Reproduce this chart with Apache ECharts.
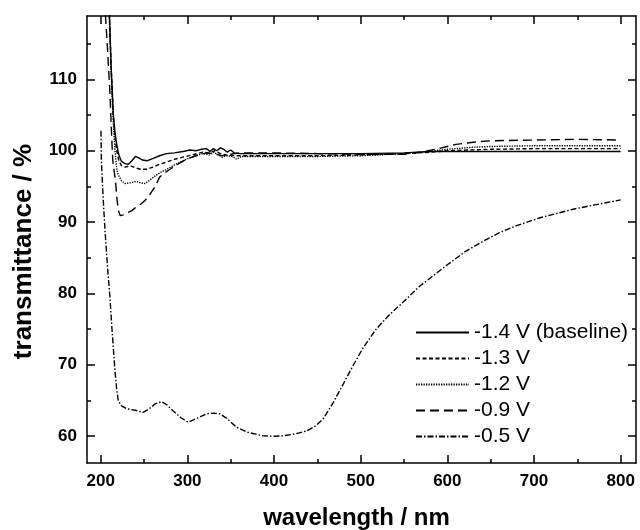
<!DOCTYPE html>
<html>
<head>
<meta charset="utf-8">
<script src="https://cdn.jsdelivr.net/npm/echarts@6/dist/echarts.min.js"></script>
<style>
html,body{margin:0;padding:0;background:#fff;}
#chart{width:640px;height:530px;}
</style>
</head>
<body>
<div id="chart"></div>
<script>
// ---- data ----
const seriesNames = ['-1.4 V (baseline)', '-1.3 V', '-1.2 V', '-0.9 V', '-0.5 V'];

const wl_m14 = [209.5,212,214.5,216.5,218.5,221,224,228,232,236,240,244,248,254,260,268,276,285,295,303,310,316,322,326,330,334,338,342,346,350,354,360,380,400,450,500,550,580,600,650,700,750,800];
const t_m14  = [121,112,105.3,102.5,100.9,99.4,98.5,98.2,98.1,98.6,99.2,99.0,98.7,98.6,98.9,99.3,99.6,99.7,99.9,100.1,100.0,100.2,100.3,99.9,100.3,100.0,100.4,100.2,99.8,100.1,99.7,99.6,99.6,99.6,99.6,99.6,99.7,99.9,99.9,99.9,99.9,99.9,99.9];

const wl_m13 = [209.5,212,214.5,216.5,218.5,221,224,228,234,240,246,253,260,268,276,285,295,305,318,325,332,338,345,355,400,450,500,550,580,600,650,700,750,800];
const t_m13  = [121,112,105,102,100,98.6,97.9,97.7,97.9,97.6,97.4,97.4,97.7,98.1,98.4,98.8,99.1,99.4,99.8,99.7,100.0,99.6,99.4,99.3,99.3,99.3,99.4,99.6,99.8,100.0,100.2,100.3,100.3,100.3];

const wl_m12 = [209.5,212,214.5,216.5,218.5,220,224,228,234,241,246,251,256,261,268,276,285,295,303,310,318,325,330,335,340,345,352,357,362,400,450,500,550,580,600,630,650,700,750,800];
const t_m12  = [121,111,104,100,97.5,96.7,95.8,95.4,95.5,95.7,95.5,95.4,95.8,96.3,96.9,97.4,98.0,98.6,99.0,99.3,99.6,99.4,99.8,99.5,99.1,99.3,99.2,98.8,99.2,99.2,99.2,99.3,99.6,99.9,100.2,100.5,100.6,100.7,100.7,100.7];

const wl_m09 = [204.5,208,210.7,213,214,217,219,220.5,222.5,226,231,236,241,246,251,257,263,268,274,280,290,299,310,322,330,340,350,360,400,450,500,550,570,590,610,630,650,700,750,800];
const t_m09  = [121,114,108,101,98.6,95.8,93,91.6,90.9,91.0,91.3,91.6,92.1,92.5,93.0,93.9,95.0,96.3,96.9,97.4,98.2,98.8,99.3,99.7,99.6,99.3,99.5,99.7,99.7,99.6,99.5,99.5,99.8,100.3,100.9,101.2,101.4,101.5,101.6,101.5];

const wl_m05 = [200.3,200.8,203,205,208,210.7,213,216.5,218.5,220.3,224,230,240,249,256,263,270,276,283.8,292,301,310,322,330,337.6,345,357,370,387.6,400,410,425,437.7,448,456.8,468,480,490,503,518,534,545,568,600,620,641,660,680,707,745,770,800];
const t_m05  = [102.8,98.6,93,88.8,83.5,79.4,75,69.1,66.5,64.9,64.2,63.8,63.6,63.3,63.8,64.5,64.8,64.4,63.5,62.6,61.9,62.4,63.1,63.2,63.1,62.5,61.2,60.5,60.0,59.95,60.0,60.3,60.7,61.4,62.4,64.6,67.3,69.6,72.4,75.0,77.1,78.3,81.0,84.0,85.8,87.3,88.5,89.5,90.6,91.8,92.4,93.1];

const xMajorTicks = [200,300,400,500,600,700,800];
const xMinorTicks = [250,350,450,550,650,750];
const yMajorTicks = [60,70,80,90,100,110];
const yMinorTicks = [65,75,85,95,105,115];

// ---- chart ----
const pairs = (xs, ys) => xs.map((x, i) => [x, ys[i]]);
const FONT = '"Liberation Sans", Arial, Helvetica, sans-serif';
const X_MIN = 184.2, X_MAX = 817.7, Y_MIN = 56.2, Y_MAX = 118.9;

function xAx(pos, ticks, len, labels, line) {
  return {
    type: 'value', position: pos, min: X_MIN, max: X_MAX, gridIndex: 0,
    axisLine: { show: line, onZero: false, lineStyle: { color: '#000', width: 1.5 } },
    axisTick: { show: true, inside: true, length: len, customValues: ticks, lineStyle: { color: '#000', width: 1.5 } },
    axisLabel: labels ? { show: true, customValues: ticks, color: '#000', fontFamily: FONT, fontWeight: 'bold', fontSize: 17, margin: 10 } : { show: false },
    splitLine: { show: false }
  };
}
function yAx(pos, ticks, len, labels, line) {
  return {
    type: 'value', position: pos, min: Y_MIN, max: Y_MAX, gridIndex: 0,
    axisLine: { show: line, onZero: false, lineStyle: { color: '#000', width: 1.5 } },
    axisTick: { show: true, inside: true, length: len, customValues: ticks, lineStyle: { color: '#000', width: 1.5 } },
    axisLabel: labels ? { show: true, customValues: ticks, color: '#000', fontFamily: FONT, fontWeight: 'bold', fontSize: 17, margin: 10 } : { show: false },
    splitLine: { show: false }
  };
}

const xAxes = [
  xAx('bottom', xMajorTicks, 8, true, true),
  xAx('bottom', xMinorTicks, 4, false, false),
  xAx('top', xMajorTicks, 8, false, true),
  xAx('top', xMinorTicks, 4, false, false)
];
Object.assign(xAxes[0], {
  name: 'wavelength / nm', nameLocation: 'middle', nameGap: 43,
  nameTextStyle: { color: '#000', fontFamily: FONT, fontWeight: 'bold', fontSize: 24, padding: [0, 10, 0, 0] }
});
const yAxes = [
  yAx('left', yMajorTicks, 8, true, true),
  yAx('left', yMinorTicks, 4, false, false),
  yAx('right', yMajorTicks, 8, false, true),
  yAx('right', yMinorTicks, 4, false, false)
];
Object.assign(yAxes[0], {
  name: 'transmittance / %', nameLocation: 'middle', nameGap: 50,
  nameTextStyle: { color: '#000', fontFamily: FONT, fontWeight: 'bold', fontSize: 26, padding: [0, 24, 0, 0] }
});

const styles = [
  { type: 'solid' },
  { type: [4, 2.5] },
  { type: [1.3, 1.2] },
  { type: [9, 5] },
  { type: [6, 2, 1.5, 2] }
];
const datasets = [pairs(wl_m14, t_m14), pairs(wl_m13, t_m13), pairs(wl_m12, t_m12), pairs(wl_m09, t_m09), pairs(wl_m05, t_m05)];

const series = seriesNames.map((n, i) => ({
  name: n, type: 'line', data: datasets[i], xAxisIndex: 0, yAxisIndex: 0,
  symbol: 'none', showSymbol: false, smooth: false, clip: true, animation: false,
  lineStyle: Object.assign({ color: '#000', width: 1.4 }, styles[i]),
  itemStyle: { color: '#000' }
}));

const chart = echarts.init(document.getElementById('chart'), null, { renderer: 'canvas' });
chart.setOption({
  backgroundColor: '#fff',
  animation: false,
  grid: { left: 87, right: 4, top: 16, bottom: 67, containLabel: false, outerBoundsMode: 'none' },
  xAxis: xAxes,
  yAxis: yAxes,
  legend: {
    orient: 'vertical', left: 410, top: 317,
    itemWidth: 53, itemHeight: 14, itemGap: 5,
    data: seriesNames,
    itemStyle: { opacity: 0 },
    textStyle: { color: '#000', fontFamily: FONT, fontSize: 21, lineHeight: 21 },
    inactiveColor: '#000'
  },
  series: series
});
</script>
</body>
</html>
